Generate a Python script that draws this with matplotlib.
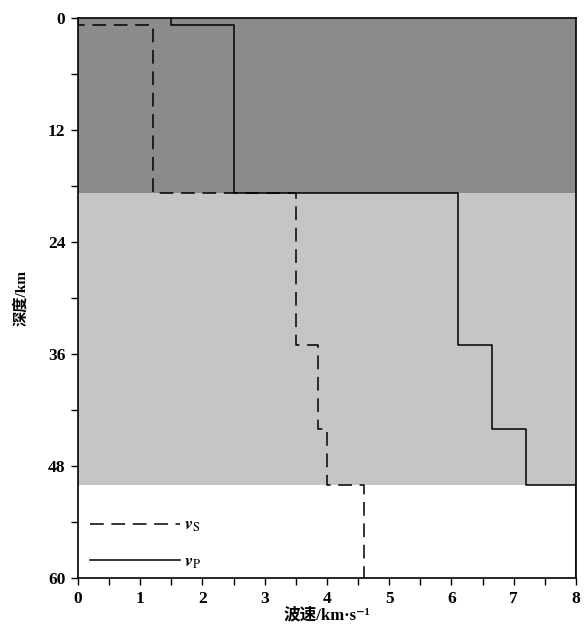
import numpy as np
import matplotlib
matplotlib.use("Agg")
from matplotlib import pyplot as plt
from matplotlib.ticker import MultipleLocator

# layer boundaries (km) and velocities (km/s) per layer
DEPTH_BOUNDS = [0, 0.75, 18.8, 35, 44, 50, 60]
VP = [1.5, 2.5, 6.1, 6.65, 7.2, 8.0]
VS = [0, 1.2, 3.5, 3.85, 4.0, 4.6]

# shaded zones: (top, bottom, colour)
ZONES = [(0, 18.8, "#8b8b8b"), (18.8, 50, "#c5c5c5")]

FONTS = ["Liberation Serif", "Noto Sans CJK SC", "DejaVu Serif"]
plt.rcParams["font.family"] = FONTS
plt.rcParams["mathtext.fontset"] = "stix"


def step_profile(bounds, values):
    y = np.repeat(bounds, 2)[1:-1]
    x = np.repeat(values, 2)
    return x, y


fig = plt.figure(figsize=(5.85, 6.3), dpi=100)
ax = fig.add_axes([0.1333, 0.0825, 0.8513, 0.8889])

for top, bottom, colour in ZONES:
    ax.axhspan(top, bottom, color=colour, lw=0, zorder=0)

xs, ys = step_profile(DEPTH_BOUNDS, VS)
ax.plot(xs, ys, color="black", lw=1.1, dashes=(9, 5), label=r"$\boldsymbol{v}_{\mathrm{S}}$")
xp, yp = step_profile(DEPTH_BOUNDS, VP)
ax.plot(xp, yp, color="black", lw=1.1, label=r"$\boldsymbol{v}_{\mathrm{P}}$")

ax.set_xlim(0, 8)
ax.set_ylim(60, 0)
ax.xaxis.set_major_locator(MultipleLocator(1))
ax.xaxis.set_minor_locator(MultipleLocator(0.5))
ax.yaxis.set_major_locator(MultipleLocator(12))
ax.yaxis.set_minor_locator(MultipleLocator(6))
ax.tick_params(which="both", direction="out", width=1, labelsize=12.5)
ax.tick_params(which="major", length=5, pad=4)
ax.tick_params(which="minor", length=5)
for s in ax.spines.values():
    s.set_linewidth(1.2)

for lab in ax.get_xticklabels() + ax.get_yticklabels():
    lab.set_fontweight("bold")

ax.set_xlabel("波速/km·s⁻¹", fontsize=12, fontweight="bold", labelpad=1)
ax.set_ylabel("深度/km", fontsize=11, fontweight="bold", labelpad=14)

ax.legend(loc="lower left", frameon=False, fontsize=13, handlelength=5.0,
          handletextpad=0.2, labelspacing=1.05, borderaxespad=0.0,
          bbox_to_anchor=(0.01, 0.0))

fig.savefig("out.png", dpi=100)
